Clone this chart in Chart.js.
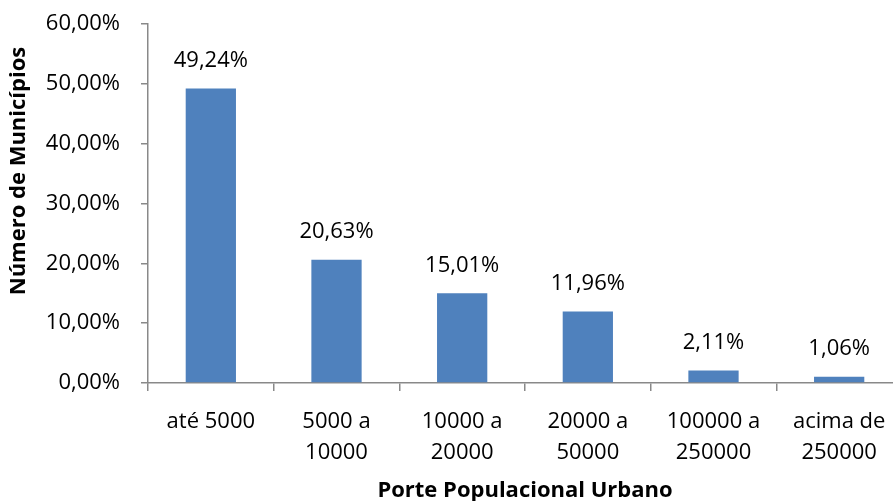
<!DOCTYPE html>
<html>
<head>
<meta charset="utf-8">
<script src="https://cdn.jsdelivr.net/npm/chart.js@4.4.1/dist/chart.umd.min.js"></script>
<style>
  html, body { margin: 0; padding: 0; background: #fff; overflow: hidden; }
  #wrap { width: 902px; height: 511px; margin-top: -10px; }
</style>
</head>
<body>
<div id="wrap"><canvas id="chart"></canvas></div>
<script>
// categorias e valores (%)
const categories = [['até 5000'], ['5000 a', '10000'], ['10000 a', '20000'], ['20000 a', '50000'], ['100000 a', '250000'], ['acima de', '250000']];
const values = [49.24, 20.63, 15.01, 11.96, 2.11, 1.06];
const yTicks = [0, 10, 20, 30, 40, 50, 60];

const fmt = v => v.toFixed(2).replace('.', ',') + '%';
const FONT = '"Open Sans", sans-serif';
const axisColor = '#898989';

// rótulos acima das barras + títulos dos eixos
const valueLabels = {
  id: 'valueLabels',
  afterDatasetsDraw(chart) {
    const ctx = chart.ctx;
    const meta = chart.getDatasetMeta(0);
    const area = chart.chartArea;
    ctx.save();
    ctx.font = '22px ' + FONT;
    ctx.fillStyle = '#000';
    ctx.textAlign = 'center';
    ctx.textBaseline = 'middle';
    meta.data.forEach((bar, i) => {
      ctx.fillText(fmt(values[i]), bar.x, bar.y - 28);
    });
    ctx.font = 'bold 22px ' + FONT;
    ctx.fillText('Porte Populacional Urbano', (area.left + area.right) / 2, 501);
    // título vertical
    ctx.translate(19, 181);
    ctx.rotate(-Math.PI / 2);
    ctx.fillText('Número de Municípios', 0, 0);
    ctx.restore();
  }
};

new Chart(document.getElementById('chart'), {
  type: 'bar',
  data: {
    labels: categories,
    datasets: [{
      data: values,
      backgroundColor: '#4F81BD',
      barPercentage: 0.4,
      categoryPercentage: 1
    }]
  },
  options: {
    responsive: true,
    maintainAspectRatio: false,
    animation: false,
    layout: { padding: { top: 8, right: 0, left: 0, bottom: 0 } },
    plugins: { legend: { display: false }, tooltip: { enabled: false } },
    scales: {
      x: {
        grid: { drawOnChartArea: false, color: axisColor, tickLength: 8, lineWidth: 1.5 },
        border: { color: axisColor, width: 1.5 },
        ticks: { font: { family: FONT, size: 22, lineHeight: 1.42 }, color: '#000', padding: 15, maxRotation: 0, autoSkip: false },
        afterFit(scale) { scale.height = 118; }
      },
      y: {
        min: 0,
        max: 60,
        afterBuildTicks(scale) { scale.ticks = yTicks.map(v => ({ value: v })); },
        grid: { drawOnChartArea: false, color: axisColor, tickLength: 7, lineWidth: 1.5 },
        border: { color: axisColor, width: 1.5 },
        ticks: { font: { family: FONT, size: 22 }, color: '#000', padding: 21, callback: v => fmt(v) },
        afterFit(scale) { scale.width = 148; }
      }
    }
  },
  plugins: [valueLabels]
});
</script>
</body>
</html>
